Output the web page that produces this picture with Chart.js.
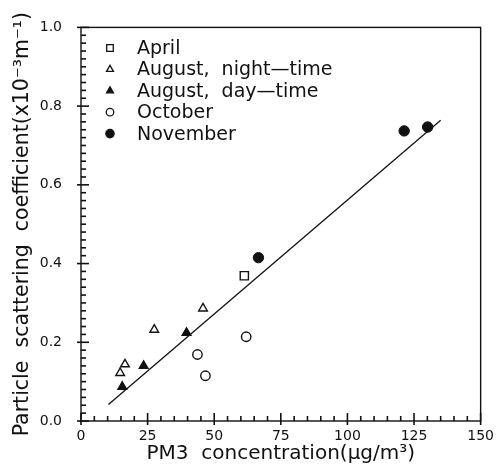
<!DOCTYPE html>
<html>
<head>
<meta charset="utf-8">
<script src="https://cdn.jsdelivr.net/npm/chart.js@4/dist/chart.umd.min.js"></script>
<style>
  html, body { margin: 0; padding: 0; background: #fff; }
  #wrap { width: 501px; height: 471px; }
</style>
</head>
<body>
<div id="wrap"><canvas id="scatterChart"></canvas></div>
<script>
// values
const aprilX = [61.3];
const aprilY = [0.369];
const nightX = [14.7, 16.5, 27.5, 45.8];
const nightY = [0.122, 0.144, 0.232, 0.286];
const dayX = [15.5, 23.5, 39.6];
const dayY = [0.087, 0.140, 0.224];
const octX = [43.7, 46.7, 62.0];
const octY = [0.169, 0.115, 0.214];
const novX = [66.6, 121.3, 130.1];
const novY = [0.415, 0.737, 0.747];
const fitX = [10.3, 135];
const fitY = [0.042, 0.764];

const xTicks = [0, 25, 50, 75, 100, 125, 150];
const yTicks = [0.0, 0.2, 0.4, 0.6, 0.8, 1.0];

const ink = '#111';
const fontFamily = '"DejaVu Sans", sans-serif';

function pts(xs, ys) {
    return xs.map((x, i) => ({ x: x, y: ys[i] }));
}

// inward minor/major ticks + top/right frame
const frameTicks = {
    id: 'frameTicks',
    afterDraw(chart) {
        const ctx = chart.ctx;
        const a = chart.chartArea;
        const xs = chart.scales.x, ys = chart.scales.y;
        ctx.save();
        ctx.strokeStyle = ink;
        ctx.lineWidth = 1.4;
        ctx.strokeRect(a.left, a.top, a.right - a.left, a.bottom - a.top);
        ctx.lineWidth = 1.6;
        for (let i = 0; i <= 30; i++) {
            const px = xs.getPixelForValue(i * 5);
            const major = i % 5 === 0;
            ctx.beginPath();
            ctx.moveTo(px, a.bottom + (major ? 4 : 0));
            ctx.lineTo(px, a.bottom - (major ? 8 : 5));
            ctx.stroke();
        }
        for (let i = 0; i <= 50; i++) {
            const py = ys.getPixelForValue(i * 0.02);
            const major = i % 10 === 0;
            ctx.beginPath();
            ctx.moveTo(a.left - (major ? 4 : 0), py);
            ctx.lineTo(a.left + (major ? 8 : 5), py);
            ctx.stroke();
        }
        ctx.restore();
    }
};

// legend inside the plot, drawn from the datasets' own styles
const innerLegend = {
    id: 'innerLegend',
    afterDraw(chart) {
        const ctx = chart.ctx;
        ctx.save();
        ctx.font = '19px ' + fontFamily;
        ctx.textBaseline = 'middle';
        let row = 0;
        chart.data.datasets.forEach(ds => {
            if (ds.type === 'line') return;
            const y = 48 + row * 21.4;
            ctx.strokeStyle = ink;
            ctx.fillStyle = ds.pointBackgroundColor;
            ctx.lineWidth = 1.3;
            Chart.helpers.drawPoint(ctx, {
                pointStyle: ds.pointStyle,
                radius: ds.pointRadius * 0.8,
                rotation: 0,
                borderWidth: 1.3
            }, 110, y);
            ctx.fillStyle = ink;
            ctx.fillText(ds.label, 137, y + 1);
            row++;
        });
        ctx.restore();
    }
};

const datasets = [
    { label: 'April', data: pts(aprilX, aprilY), pointStyle: 'rect', pointRadius: 5.8,
      pointBackgroundColor: '#fff', pointBorderColor: ink, pointBorderWidth: 1.4 },
    { label: 'August,  night\u2014time', data: pts(nightX, nightY), pointStyle: 'triangle', pointRadius: 5,
      pointBackgroundColor: '#fff', pointBorderColor: ink, pointBorderWidth: 1.4 },
    { label: 'August,  day\u2014time', data: pts(dayX, dayY), pointStyle: 'triangle', pointRadius: 5,
      pointBackgroundColor: ink, pointBorderColor: ink, pointBorderWidth: 1.4 },
    { label: 'October', data: pts(octX, octY), pointStyle: 'circle', pointRadius: 4.7,
      pointBackgroundColor: '#fff', pointBorderColor: ink, pointBorderWidth: 1.4 },
    { label: 'November', data: pts(novX, novY), pointStyle: 'circle', pointRadius: 5.2,
      pointBackgroundColor: ink, pointBorderColor: ink, pointBorderWidth: 1 },
    { type: 'line', label: 'fit', data: pts(fitX, fitY), borderColor: ink, borderWidth: 1.3,
      pointRadius: 0, fill: false, tension: 0 }
];

new Chart(document.getElementById('scatterChart'), {
    type: 'scatter',
    data: { datasets: datasets },
    plugins: [frameTicks, innerLegend],
    options: {
        responsive: true,
        maintainAspectRatio: false,
        animation: false,
        layout: { padding: { left: 0, top: 15, right: 13, bottom: 0 } },
        plugins: { legend: { display: false }, tooltip: { enabled: false } },
        scales: {
            x: {
                type: 'linear', min: 0, max: 150,
                afterFit: s => { s.height = 50; },
                afterBuildTicks: s => { s.ticks = xTicks.map(v => ({ value: v })); },
                grid: { display: false, drawTicks: false },
                border: { display: false },
                ticks: { padding: 7, color: ink, font: { family: fontFamily, size: 14 },
                         maxRotation: 0, autoSkip: false },
                title: { display: true, text: 'PM3  concentration(\u00b5g/m\u00b3)', color: ink,
                         font: { family: fontFamily, size: 20 }, padding: { top: 0, bottom: 5 } }
            },
            y: {
                type: 'linear', min: 0, max: 1.0,
                afterFit: s => { s.width = 81; },
                afterBuildTicks: s => { s.ticks = yTicks.map(v => ({ value: v })); },
                grid: { display: false, drawTicks: false },
                border: { display: false },
                ticks: { padding: 19, color: ink, font: { family: fontFamily, size: 14 },
                         callback: v => v.toFixed(1), autoSkip: false },
                title: { display: true, text: 'Particle  scattering  coefficient(x10\u207b\u00b3m\u207b\u00b9)', color: ink,
                         font: { family: fontFamily, size: 20.5 }, padding: { top: 10, bottom: 0 } }
            }
        }
    }
});
</script>
</body>
</html>
